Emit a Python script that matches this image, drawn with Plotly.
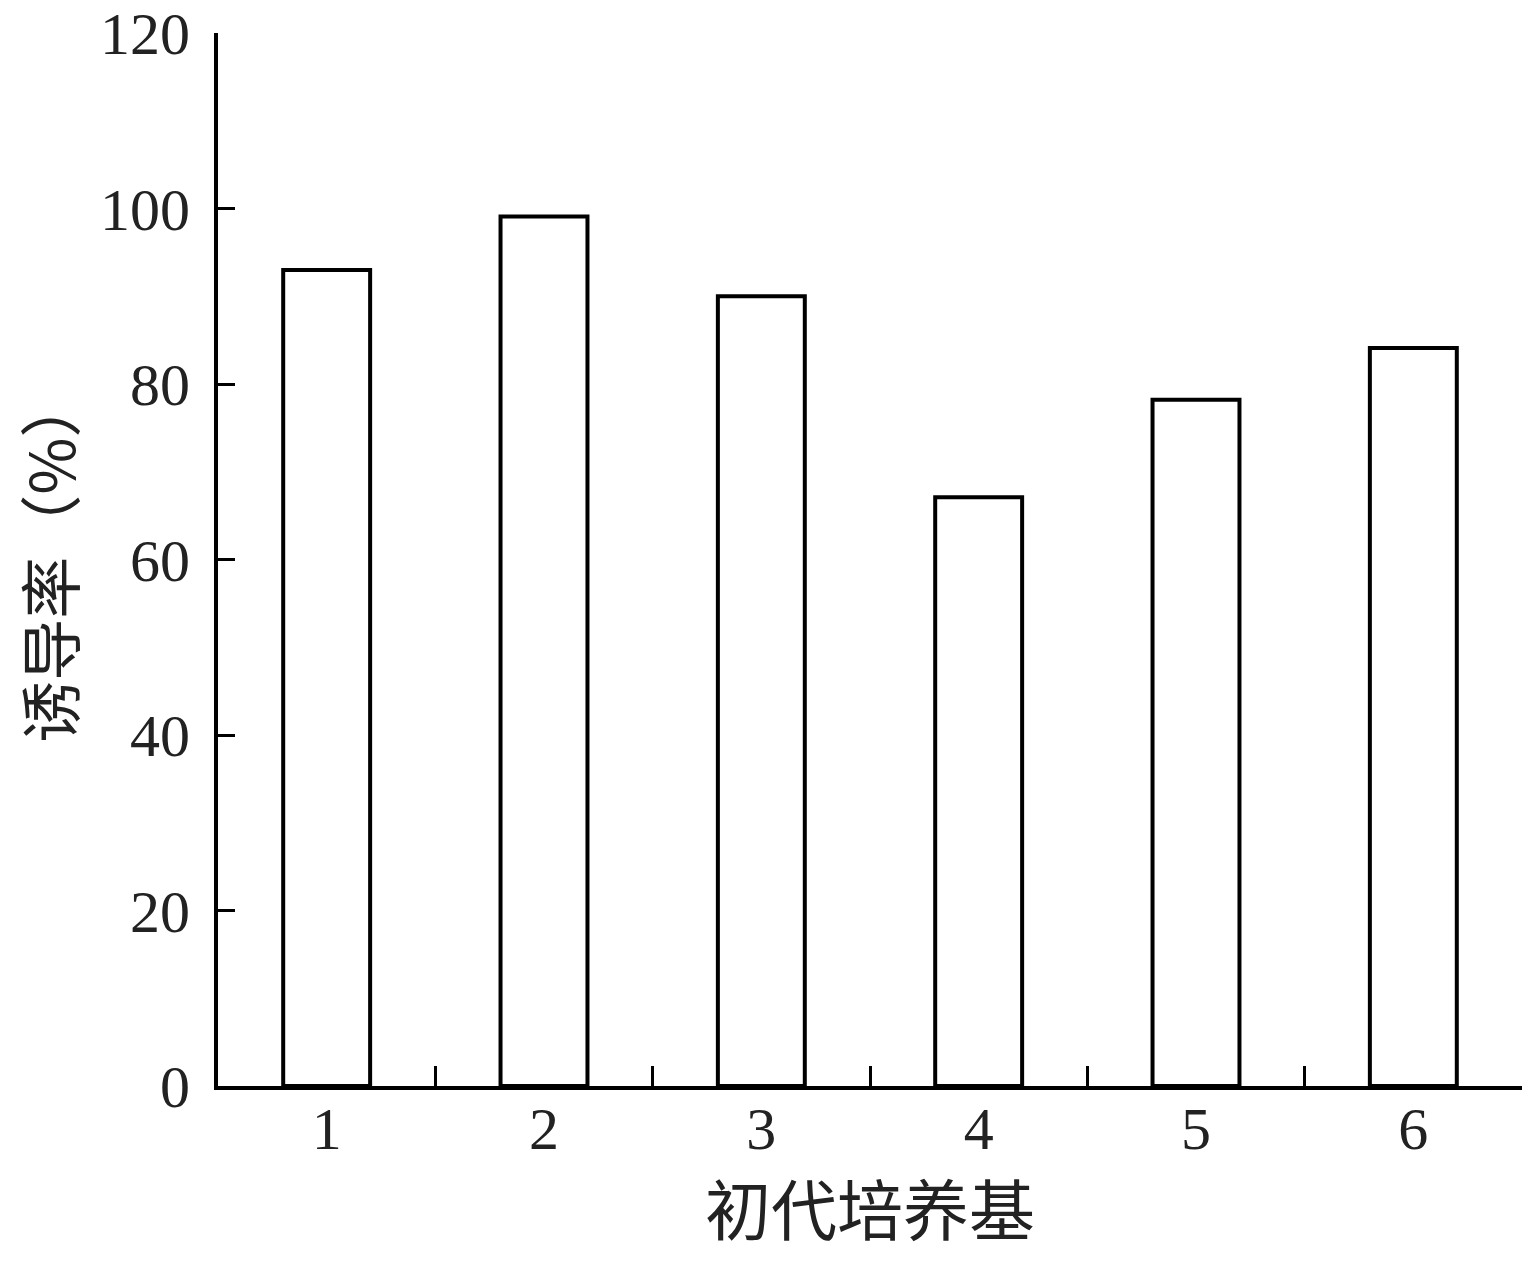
import plotly.graph_objects as go

categories = ["1", "2", "3", "4", "5", "6"]
induction_rate = [93.0, 99.1, 90.0, 67.1, 78.2, 84.1]
y_ticks = [0, 20, 40, 60, 80, 100, 120]

positions = list(range(1, len(categories) + 1))
boundaries = [p + 0.5 for p in positions]

fig = go.Figure()
fig.add_trace(go.Bar(
    x=positions, y=induction_rate, width=0.4,
    marker=dict(color="white", line=dict(color="black", width=4)),
    showlegend=False,
))
fig.add_trace(go.Scatter(x=positions, y=[None]*len(positions), xaxis="x2",
                         mode="markers", showlegend=False, hoverinfo="skip"))

serif = "Liberation Serif, Times New Roman, serif"
cjk = "Noto Sans CJK SC"

fig.update_layout(
    width=1520, height=1250,
    margin=dict(l=210, r=6, t=25, b=172, autoexpand=False),
    plot_bgcolor="white", paper_bgcolor="white",
    xaxis=dict(
        range=[0.5, 6.5], showgrid=False, zeroline=False, automargin=False,
        showline=True, linecolor="black", linewidth=4,
        tickmode="array", tickvals=boundaries, ticks="inside",
        ticklen=20, tickwidth=3, tickcolor="black", showticklabels=False,
    ),
    xaxis2=dict(
        overlaying="x", side="bottom", range=[0.5, 6.5], showgrid=False,
        zeroline=False, showline=False, tickmode="array", tickvals=positions,
        ticktext=categories, ticks="", ticklabelstandoff=2, automargin=False,
        ticklabeloverflow="allow",
        tickfont=dict(family=serif, size=60, color="#222"),
    ),
    yaxis=dict(
        range=[0, 120], showgrid=False, zeroline=False, automargin=False,
        showline=True, linecolor="black", linewidth=4,
        tickmode="array", tickvals=y_ticks, ticks="inside",
        ticklen=17, tickwidth=3, tickcolor="black", ticklabelstandoff=12,
        ticklabeloverflow="allow",
        tickfont=dict(family=serif, size=60, color="#222"),
    ),
    annotations=[
        dict(text="初代培养基", xref="paper", yref="paper", x=0.5, y=-0.114,
             xanchor="center", yanchor="middle", showarrow=False,
             font=dict(family=cjk, size=66, color="#222")),
        dict(text="诱导率（%）", xref="paper", yref="paper", x=-0.131, y=0.5,
             xanchor="center", yanchor="middle", showarrow=False, textangle=-90,
             font=dict(family=cjk, size=62, color="#222")),
    ],
)

fig.write_html("out.html")
